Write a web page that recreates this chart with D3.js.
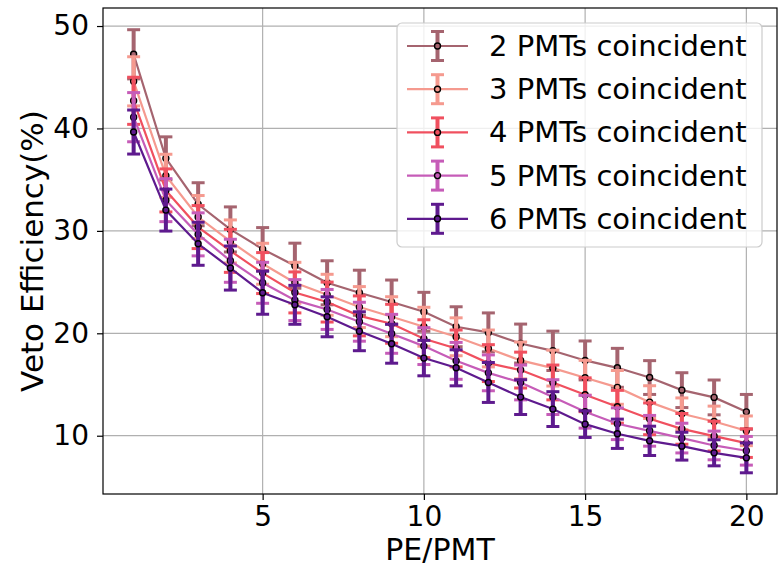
<!DOCTYPE html>
<html>
<head>
<meta charset="utf-8">
<script src="https://cdn.jsdelivr.net/npm/d3@7"></script>
<style>
    body { margin: 0; background: white; }
    text { font-family: "DejaVu Sans", sans-serif; fill: black; }
</style>
</head>
<body>
<div id="chart"></div>
<script>
// PE/PMT threshold on the x axis
var pe = [ 1, 2, 3, 4, 5, 6, 7, 8, 9, 10, 11, 12, 13, 14, 15, 16, 17, 18, 19, 20 ];

var labels = [ "2 PMTs coincident", "3 PMTs coincident", "4 PMTs coincident", "5 PMTs coincident", "6 PMTs coincident" ];
var colors = [ "#a5646f", "#f59a8f", "#f0505f", "#c65cb8", "#5e1a8e" ];

// veto efficiency (%) and its error, one pair per coincidence level
var eff2 = [ 47.24, 37.08, 32.6, 30.14, 28.22, 26.6, 24.93, 23.96, 23.05, 22.1, 20.64, 20.09, 19.0, 18.29, 17.35, 16.63, 15.68, 14.45, 13.74, 12.33 ];
var err2 = [ 2.4, 2.1, 2.1, 2.2, 2.1, 2.2, 2.15, 2.2, 2.15, 1.9, 1.95, 1.9, 1.9, 1.92, 1.9, 1.9, 1.65, 1.7, 1.7, 1.7 ];
var eff3 = [ 44.6, 35.38, 31.35, 28.97, 26.79, 24.93, 23.76, 22.56, 21.62, 20.64, 19.66, 18.52, 17.35, 16.6, 15.66, 14.72, 13.28, 12.14, 11.39, 10.48 ];
var err3 = [ 2.4, 2.1, 2.1, 2.1, 2.0, 2.0, 2.0, 2.0, 1.95, 1.9, 1.85, 1.8, 1.8, 1.75, 1.7, 1.65, 1.6, 1.55, 1.5, 1.45 ];
var eff4 = [ 42.7, 33.95, 30.37, 28.05, 25.88, 23.99, 23.05, 21.7, 20.93, 19.47, 18.52, 17.09, 16.41, 15.2, 14.0, 12.83, 11.65, 10.67, 9.96, 9.28 ];
var err4 = [ 2.3, 2.1, 2.1, 2.1, 2.0, 2.0, 1.95, 1.95, 1.9, 1.85, 1.8, 1.8, 1.75, 1.7, 1.65, 1.6, 1.55, 1.5, 1.45, 1.4 ];
var eff5 = [ 41.1, 33.0, 29.66, 27.08, 24.93, 23.24, 22.33, 21.13, 19.95, 18.75, 17.31, 16.14, 15.2, 13.77, 12.34, 11.17, 10.48, 9.77, 9.05, 8.53 ];
var err5 = [ 2.4, 2.1, 2.1, 2.1, 2.0, 2.0, 1.95, 1.9, 1.9, 1.8, 1.8, 1.75, 1.7, 1.7, 1.6, 1.55, 1.5, 1.45, 1.4, 1.4 ];
var eff6 = [ 39.65, 32.03, 28.74, 26.37, 23.96, 22.78, 21.61, 20.2, 18.98, 17.58, 16.63, 15.2, 13.77, 12.6, 11.13, 10.19, 9.5, 8.98, 8.33, 7.84 ];
var err6 = [ 2.15, 2.05, 2.1, 2.15, 2.1, 1.9, 1.95, 1.9, 1.9, 1.73, 1.76, 1.95, 1.7, 1.7, 1.3, 1.43, 1.43, 1.36, 1.27, 1.46 ];

var xTicks = [ 5, 10, 15, 20 ];
var yTicks = [ 10, 20, 30, 40, 50 ];

var effs = [ eff2, eff3, eff4, eff5, eff6 ];
var errs = [ err2, err3, err4, err5, err6 ];

var series = labels.map( function( name, i ) {
    return {
        name: name,
        color: colors[ i ],
        values: pe.map( function( p, j ) { return { x: p, y: effs[ i ][ j ], e: errs[ i ][ j ] }; } )
    };
});

var margin = { top: 8, right: 3, bottom: 74, left: 103 },
    width = 780 - margin.left - margin.right,
    height = 568 - margin.top - margin.bottom;

var x = d3.scaleLinear().domain( [ 0.05, 20.95 ] ).range( [ 0, width ] );
var y = d3.scaleLinear().domain( [ 4.31, 51.76 ] ).range( [ height, 0 ] );

var svg = d3.select( "#chart" ).append( "svg" )
    .attr( "width", 780 )
    .attr( "height", 568 )
    .append( "g" )
    .attr( "transform", "translate(" + margin.left + "," + margin.top + ")" );

// grid
svg.append( "g" ).selectAll( "line.gx" )
    .data( xTicks ).enter().append( "line" )
    .attr( "x1", function( d ) { return x( d ); } )
    .attr( "x2", function( d ) { return x( d ); } )
    .attr( "y1", 0 ).attr( "y2", height )
    .attr( "stroke", "#b0b0b0" ).attr( "stroke-width", 1.2 );

svg.append( "g" ).selectAll( "line.gy" )
    .data( yTicks ).enter().append( "line" )
    .attr( "y1", function( d ) { return y( d ); } )
    .attr( "y2", function( d ) { return y( d ); } )
    .attr( "x1", 0 ).attr( "x2", width )
    .attr( "stroke", "#b0b0b0" ).attr( "stroke-width", 1.2 );

var line = d3.line()
    .x( function( d ) { return x( d.x ); } )
    .y( function( d ) { return y( d.y ); } );

var capW = 6.5;

// each series: error bars, caps, then the line and markers
series.forEach( function( s ) {
    var g = svg.append( "g" );

    g.selectAll( "line.bar" )
        .data( s.values ).enter().append( "line" )
        .attr( "x1", function( d ) { return x( d.x ); } )
        .attr( "x2", function( d ) { return x( d.x ); } )
        .attr( "y1", function( d ) { return y( d.y - d.e ); } )
        .attr( "y2", function( d ) { return y( d.y + d.e ); } )
        .attr( "stroke", s.color ).attr( "stroke-width", 4 );

    [ -1, 1 ].forEach( function( sign ) {
        g.selectAll( null )
            .data( s.values ).enter().append( "line" )
            .attr( "x1", function( d ) { return x( d.x ) - capW; } )
            .attr( "x2", function( d ) { return x( d.x ) + capW; } )
            .attr( "y1", function( d ) { return y( d.y + sign * d.e ); } )
            .attr( "y2", function( d ) { return y( d.y + sign * d.e ); } )
            .attr( "stroke", s.color ).attr( "stroke-width", 3 );
    });

    g.append( "path" )
        .datum( s.values )
        .attr( "fill", "none" )
        .attr( "stroke", s.color )
        .attr( "stroke-width", 2.2 )
        .attr( "d", line );

    g.selectAll( "circle" )
        .data( s.values ).enter().append( "circle" )
        .attr( "cx", function( d ) { return x( d.x ); } )
        .attr( "cy", function( d ) { return y( d.y ); } )
        .attr( "r", 3 )
        .attr( "fill", s.color )
        .attr( "stroke", "black" )
        .attr( "stroke-width", 1.4 );
});

// axes
var xAxis = svg.append( "g" )
    .attr( "transform", "translate(0," + height + ")" )
    .call( d3.axisBottom( x ).tickValues( xTicks ).tickSize( 6 ).tickPadding( 6 ) );
var yAxis = svg.append( "g" )
    .call( d3.axisLeft( y ).tickValues( yTicks ).tickSize( 6 ).tickPadding( 8 ) );

[ xAxis, yAxis ].forEach( function( a ) {
    a.select( ".domain" ).remove();
    a.selectAll( "line" ).attr( "stroke", "black" ).attr( "stroke-width", 1.2 );
    a.selectAll( "text" )
        .style( "font-family", "DejaVu Sans" )
        .style( "font-size", "28px" )
        .attr( "fill", "black" );
});

// frame
svg.append( "rect" )
    .attr( "width", width ).attr( "height", height )
    .attr( "fill", "none" )
    .attr( "stroke", "black" ).attr( "stroke-width", 1.2 );

// axis labels
svg.append( "text" )
    .attr( "x", width / 2 )
    .attr( "y", 552 )
    .style( "text-anchor", "middle" )
    .style( "font-size", "30px" )
    .text( "PE/PMT" );

svg.append( "text" )
    .attr( "transform", "rotate(-90)" )
    .attr( "x", -height / 2 )
    .attr( "y", -60 )
    .style( "text-anchor", "middle" )
    .style( "font-size", "31px" )
    .text( "Veto Efficiency(%)" );

// legend
var lg = svg.append( "g" )
    .attr( "transform", "translate(" + ( 397 - margin.left ) + "," + ( 23 - margin.top ) + ")" );

lg.append( "rect" )
    .attr( "width", 365 ).attr( "height", 224 )
    .attr( "rx", 5 ).attr( "ry", 5 )
    .attr( "fill", "white" ).attr( "fill-opacity", 0.8 )
    .attr( "stroke", "#cccccc" ).attr( "stroke-width", 1.2 );

var rows = lg.selectAll( "g.row" )
    .data( series ).enter().append( "g" )
    .attr( "transform", function( d, i ) { return "translate(0," + ( 23 + i * 43.2 ) + ")"; } );

rows.append( "line" )
    .attr( "x1", 10 ).attr( "x2", 71 )
    .attr( "stroke", function( d ) { return d.color; } )
    .attr( "stroke-width", 2.2 );
rows.append( "line" )
    .attr( "x1", 40.5 ).attr( "x2", 40.5 )
    .attr( "y1", -14.5 ).attr( "y2", 14.5 )
    .attr( "stroke", function( d ) { return d.color; } )
    .attr( "stroke-width", 4 );
[ -14.5, 14.5 ].forEach( function( dy ) {
    rows.append( "line" )
        .attr( "x1", 40.5 - capW ).attr( "x2", 40.5 + capW )
        .attr( "y1", dy ).attr( "y2", dy )
        .attr( "stroke", function( d ) { return d.color; } )
        .attr( "stroke-width", 3 );
});
rows.append( "circle" )
    .attr( "cx", 40.5 ).attr( "r", 3 )
    .attr( "fill", function( d ) { return d.color; } )
    .attr( "stroke", "black" ).attr( "stroke-width", 1.4 );
rows.append( "text" )
    .attr( "x", 92 )
    .attr( "y", 10 )
    .style( "font-size", "29px" )
    .text( function( d ) { return d.name; } );
</script>
</body>
</html>
